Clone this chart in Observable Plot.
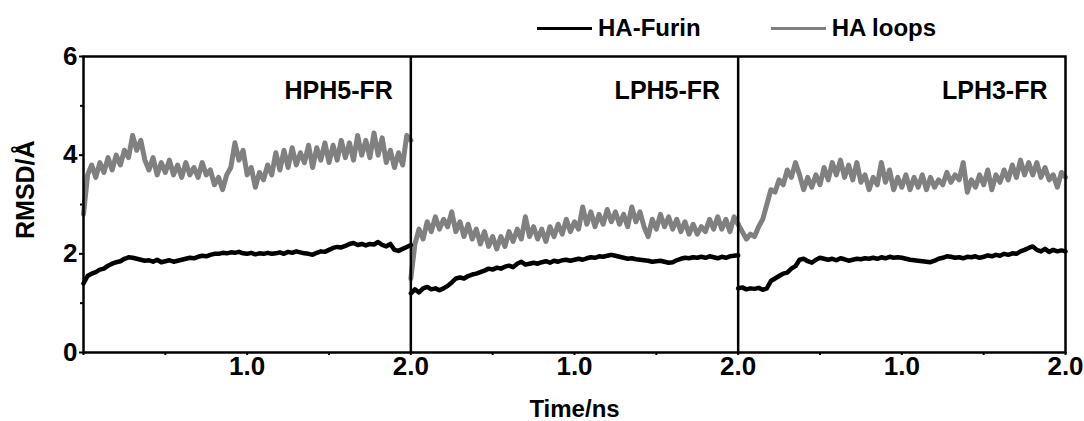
<!DOCTYPE html>
<html><head><meta charset="utf-8">
<script src="https://cdn.jsdelivr.net/npm/d3@7"></script>
<script src="https://cdn.jsdelivr.net/npm/@observablehq/plot@0.6"></script>
<style>
body{margin:0;background:#fff;font-family:"Liberation Sans",Arial,sans-serif;}
#wrap{position:relative;width:1084px;height:421px;}
#legend{position:absolute;top:16px;left:537px;display:flex;align-items:center;font-weight:bold;font-size:24px;line-height:24px;color:#000;}
#legend .sw{width:55px;height:3px;margin-right:6px;}
#legend .item{display:flex;align-items:center;}
#legend .item + .item{margin-left:70px;}
</style>
</head><body>
<div id="wrap"><div id="chart"></div><div id="legend"></div></div>
<script>
const panels = ["HPH5-FR", "LPH5-FR", "LPH3-FR"];
const panelEnd = [2, 4, 6];
const seriesNames = ["HA-Furin", "HA loops"];
const seriesColors = ["#000000", "#808080"];
const step = 0.025; // ns between sampled values
const panelSpan = 2; // ns per panel
const xMajorTicks = [1, 2, 3, 4, 5, 6];
const xTickLabels = ["1.0", "2.0", "1.0", "2.0", "1.0", "2.0"];
const xMinorTicks = [0, 0.5, 1.5, 2.5, 3.5, 4.5, 5.5];
const yMajorTicks = [0, 2, 4, 6];
const yMinorTicks = [1, 3, 5];

// HPH5-FR
const furin1 = [1.4,1.55,1.6,1.63,1.68,1.7,1.76,1.8,1.83,1.85,
  1.9,1.93,1.92,1.9,1.88,1.86,1.87,1.84,1.88,1.83,
  1.85,1.87,1.84,1.86,1.88,1.9,1.92,1.91,1.94,1.96,
  1.95,1.98,2.0,2.0,2.02,2.01,2.03,2.02,2.04,2.01,
  2.0,2.02,1.99,2.01,2.0,2.02,2.0,2.01,2.03,2.0,
  2.04,2.02,2.05,2.03,2.01,2.0,1.98,2.02,2.05,2.04,
  2.08,2.12,2.14,2.13,2.16,2.2,2.22,2.18,2.2,2.17,
  2.2,2.19,2.24,2.18,2.15,2.2,2.08,2.06,2.1,2.14,
  2.18];
const loops1 = [2.8,3.6,3.8,3.55,3.85,3.65,3.95,3.7,4.0,3.8,
  4.1,3.95,4.4,4.1,4.3,3.9,3.7,3.95,3.6,3.85,
  3.65,3.9,3.6,3.8,3.55,3.85,3.6,3.75,3.55,3.85,
  3.6,3.7,3.4,3.55,3.3,3.6,3.75,4.25,3.9,4.1,
  3.6,3.75,3.35,3.65,3.5,3.8,3.6,4.05,3.7,4.1,
  3.75,4.15,3.8,4.05,3.85,4.2,3.75,4.15,3.9,4.25,
  3.85,4.2,3.9,4.3,3.95,4.25,3.9,4.4,4.0,4.3,
  3.95,4.45,4.0,4.35,3.85,4.1,3.75,4.05,3.8,4.4,
  4.3];
// LPH5-FR
const furin2 = [1.2,1.28,1.22,1.3,1.33,1.28,1.3,1.26,1.3,1.35,
  1.42,1.5,1.52,1.5,1.55,1.58,1.6,1.63,1.66,1.7,
  1.68,1.72,1.7,1.74,1.76,1.73,1.8,1.84,1.78,1.8,
  1.82,1.8,1.83,1.85,1.82,1.86,1.84,1.87,1.88,1.86,
  1.88,1.9,1.88,1.91,1.93,1.92,1.95,1.94,1.96,1.98,
  1.96,1.94,1.92,1.9,1.91,1.89,1.88,1.87,1.86,1.84,
  1.85,1.86,1.84,1.82,1.83,1.87,1.9,1.92,1.91,1.93,
  1.92,1.94,1.92,1.95,1.93,1.91,1.94,1.92,1.95,1.96,
  1.97];
const loops2 = [1.5,2.2,2.5,2.3,2.65,2.45,2.75,2.5,2.7,2.55,
  2.85,2.45,2.65,2.35,2.6,2.3,2.5,2.2,2.45,2.15,
  2.35,2.1,2.35,2.15,2.45,2.25,2.5,2.3,2.75,2.35,
  2.55,2.3,2.5,2.25,2.55,2.35,2.6,2.4,2.7,2.45,
  2.65,2.5,2.95,2.6,2.85,2.55,2.8,2.6,2.9,2.65,
  2.85,2.6,2.8,2.55,2.95,2.65,2.85,2.55,2.35,2.7,
  2.5,2.8,2.55,2.75,2.5,2.7,2.45,2.65,2.4,2.6,
  2.4,2.55,2.45,2.7,2.5,2.75,2.5,2.7,2.45,2.75,
  2.6];
// LPH3-FR
const furin3 = [1.3,1.32,1.28,1.3,1.29,1.31,1.27,1.3,1.45,1.5,
  1.55,1.6,1.62,1.7,1.75,1.88,1.9,1.85,1.82,1.88,
  1.92,1.9,1.88,1.9,1.87,1.91,1.89,1.86,1.88,1.9,
  1.89,1.91,1.9,1.92,1.9,1.93,1.91,1.94,1.92,1.93,
  1.92,1.9,1.88,1.87,1.86,1.85,1.84,1.83,1.86,1.9,
  1.92,1.95,1.94,1.92,1.93,1.91,1.94,1.93,1.95,1.92,
  1.94,1.97,1.95,1.98,1.96,2.0,1.98,2.01,2.0,2.05,
  2.08,2.12,2.15,2.08,2.05,2.1,2.04,2.08,2.05,2.07,
  2.05];
const loops3 = [2.6,2.45,2.3,2.4,2.35,2.55,2.7,3.0,3.3,3.25,
  3.5,3.4,3.7,3.55,3.85,3.6,3.3,3.55,3.35,3.6,
  3.4,3.75,3.5,3.85,3.6,3.9,3.55,3.8,3.5,3.85,
  3.45,3.6,3.3,3.55,3.4,3.85,3.45,3.7,3.3,3.55,
  3.35,3.6,3.3,3.55,3.35,3.6,3.3,3.55,3.35,3.5,
  3.4,3.65,3.45,3.6,3.5,3.85,3.25,3.5,3.35,3.6,
  3.4,3.7,3.3,3.6,3.45,3.7,3.5,3.8,3.55,3.9,
  3.6,3.85,3.6,3.85,3.55,3.75,3.5,3.6,3.35,3.65,
  3.55];

const panelSeries = [[furin1, loops1], [furin2, loops2], [furin3, loops3]];
const rows = [];
panelSeries.forEach((pair, p) => pair.forEach((vals, s) => vals.forEach((v, i) => {
  rows.push({x: p * panelSpan + i * step, y: v, series: seriesNames[s], key: p + "-" + s});
})));
const loopsRows = rows.filter(d => d.series === "HA loops");
const furinRows = rows.filter(d => d.series === "HA-Furin");

// legend (HTML, over the top of the figure)
const legend = document.getElementById("legend");
seriesNames.forEach((name, i) => {
  const item = document.createElement("div");
  item.className = "item";
  const sw = document.createElement("div");
  sw.className = "sw";
  sw.style.background = seriesColors[i];
  const t = document.createElement("span");
  t.textContent = name;
  item.appendChild(sw); item.appendChild(t);
  legend.appendChild(item);
});

const chart = Plot.plot({
  width: 1084,
  height: 421,
  marginLeft: 83,
  marginRight: 19,
  marginTop: 56,
  marginBottom: 69,
  style: {fontFamily: "Liberation Sans, Arial, sans-serif", fontWeight: "bold", background: "#fff", color: "#000"},
  x: {domain: [0, 6]},
  y: {domain: [0, 6]},
  color: {domain: seriesNames, range: seriesColors},
  marks: [
    Plot.axisX({ticks: xMinorTicks, tickSize: 3, tickFormat: () => "", label: null, strokeWidth: 2}),
    Plot.axisX({ticks: xMajorTicks, tickSize: 3, tickPadding: 1, strokeWidth: 2, fontSize: 26, label: null,
      tickFormat: d => xTickLabels[xMajorTicks.indexOf(d)]}),
    Plot.axisY({ticks: yMajorTicks, tickSize: 4, tickPadding: 2, strokeWidth: 2, fontSize: 26, label: null, tickFormat: "d"}),
    Plot.axisY({ticks: yMinorTicks, tickSize: 3, strokeWidth: 2, tickFormat: () => "", label: null}),
    Plot.line(loopsRows, {x: "x", y: "y", z: "key", stroke: "series", strokeWidth: 5}),
    Plot.line(furinRows, {x: "x", y: "y", z: "key", stroke: "series", strokeWidth: 4.5}),
    Plot.ruleX(panelEnd.slice(0, 2), {stroke: "#000", strokeWidth: 2.5}),
    Plot.frame({stroke: "#000", strokeWidth: 2.5}),
    Plot.text(panels, {x: panelEnd, frameAnchor: "top", dy: 25, dx: -18, textAnchor: "end", fontSize: 25, fontWeight: "bold", fill: "#000"}),
    Plot.text(["RMSD/Å"], {frameAnchor: "left", y: [3.3], dx: -58, rotate: -90, textAnchor: "middle", fontSize: 25, fontWeight: "bold", fill: "#000"}),
    Plot.text(["Time/ns"], {frameAnchor: "bottom", x: [3], dy: 64, fontSize: 24, fontWeight: "bold", fill: "#000"})
  ]
});
document.getElementById("chart").appendChild(chart);
</script>
</body></html>
